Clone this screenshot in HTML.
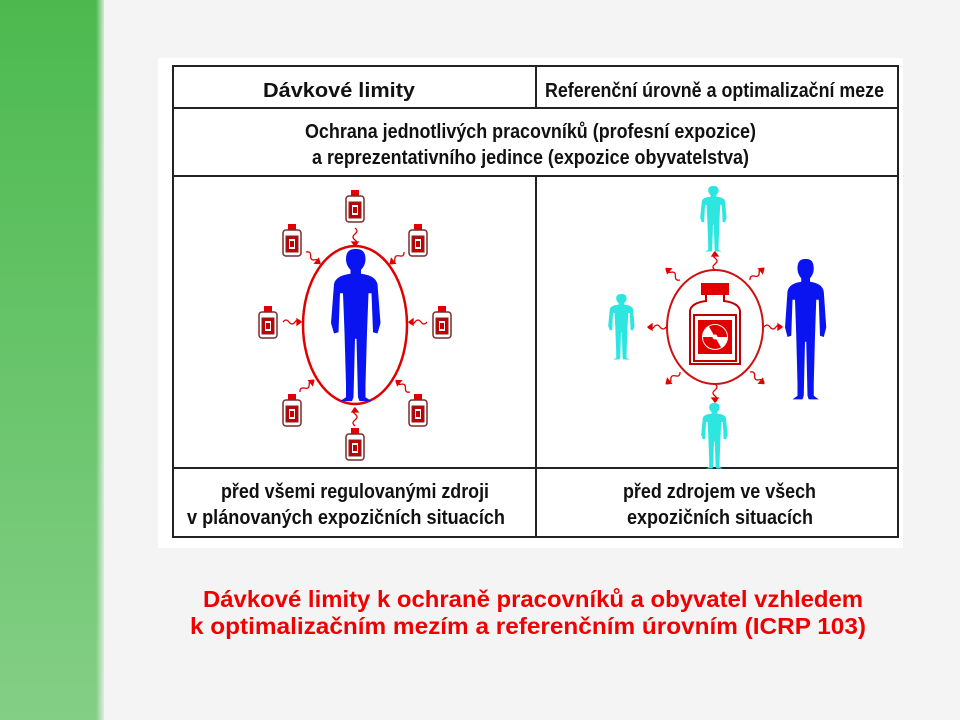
<!DOCTYPE html>
<html><head><meta charset="utf-8"><style>
html,body{margin:0;padding:0;width:960px;height:720px;overflow:hidden;background:#f4f4f4}
</style></head><body>
<svg width="960" height="720" viewBox="0 0 960 720" xmlns="http://www.w3.org/2000/svg" font-family="Liberation Sans, Arial, sans-serif" font-weight="bold">
<defs>
<linearGradient id="g" x1="0" y1="0" x2="0" y2="1">
<stop offset="0" stop-color="#4cb94f"/><stop offset="1" stop-color="#84cf86"/></linearGradient>
<linearGradient id="edge" x1="0" y1="0" x2="1" y2="0">
<stop offset="0" stop-color="#f4f4f4" stop-opacity="0"/><stop offset="1" stop-color="#f4f4f4" stop-opacity="1"/></linearGradient>
<g id="bottle">
<rect x="-4" y="-16" width="8" height="6" fill="#e00000"/>
<rect x="-9" y="-10" width="18" height="26" rx="3" fill="#fff" stroke="#7a2a2a" stroke-width="1.5"/>
<rect x="-6" y="-4" width="12" height="16" fill="#c00000" stroke="#7a2a2a"/>
<rect x="-3" y="-1" width="6" height="10" fill="#fff"/>
<rect x="-2" y="1" width="4" height="6" fill="#c00000"/>
</g>
<path id="man" d="M0,0 c-5,0 -6,4 -6,8 c0,4 2,7 3,8 l0,3 c-6,1 -10,3 -11,8 l-2,30 l2,8 l3,-1 l1,-30 l2,0 l1,30 l1,40 l0,10 l-4,3 l8,0 l1,-3 l1,-45 l1,0 l1,45 l1,3 l8,0 l-4,-3 l0,-10 l1,-40 l1,-30 l2,0 l1,30 l3,1 l2,-8 l-2,-30 c-1,-5 -5,-7 -11,-8 l0,-3 c1,-1 3,-4 3,-8 c0,-4 -1,-8 -6,-8 z"/>
<g id="wav" fill="none" stroke="#e00000" stroke-width="1.3">
<path d="M0,0 q3,-4 6,0 t6,0 t6,0"/><path d="M18,0 l-4,-3 l0,6 z" fill="#e00000"/>
</g>
</defs>
<rect x="0" y="0" width="104" height="720" fill="url(#g)"/>
<rect x="96" y="0" width="10" height="720" fill="url(#edge)"/>
<rect x="158" y="58" width="745" height="490" fill="#fff"/>
<g stroke="#222" stroke-width="2" fill="none">
<rect x="173" y="66" width="725" height="471"/>
<line x1="173" y1="108" x2="898" y2="108"/>
<line x1="173" y1="176" x2="898" y2="176"/>
<line x1="173" y1="468" x2="898" y2="468"/>
<line x1="536" y1="66" x2="536" y2="108"/>
<line x1="536" y1="176" x2="536" y2="537"/>
</g>
<g font-size="20" fill="#111">
<text x="263" y="97" textLength="152" lengthAdjust="spacingAndGlyphs">Dávkové limity</text>
<text x="545" y="97" textLength="339" lengthAdjust="spacingAndGlyphs">Referenční úrovně a optimalizační meze</text>
<text x="305" y="138" textLength="451" lengthAdjust="spacingAndGlyphs">Ochrana jednotlivých pracovníků (profesní expozice)</text>
<text x="312" y="164" textLength="437" lengthAdjust="spacingAndGlyphs">a reprezentativního jedince (expozice obyvatelstva)</text>
<text x="221" y="498" textLength="268" lengthAdjust="spacingAndGlyphs">před všemi regulovanými zdroji</text>
<text x="187" y="524" textLength="318" lengthAdjust="spacingAndGlyphs">v plánovaných expozičních situacích</text>
<text x="623" y="498" textLength="193" lengthAdjust="spacingAndGlyphs">před zdrojem ve všech</text>
<text x="627" y="524" textLength="186" lengthAdjust="spacingAndGlyphs">expozičních situacích</text>
</g>
<g font-size="23" fill="#f00000">
<text x="203" y="607" textLength="660" lengthAdjust="spacingAndGlyphs">Dávkové limity k ochraně pracovníků a obyvatel vzhledem</text>
<text x="190" y="634" textLength="676" lengthAdjust="spacingAndGlyphs">k optimalizačním mezím a referenčním úrovním (ICRP 103)</text>
</g>
<!-- left -->
<ellipse cx="355" cy="325" rx="52" ry="79" fill="none" stroke="#e00000" stroke-width="2.5"/>
<use href="#man" transform="translate(355,249) scale(1.5,1.3)" fill="#0a14f0"/>
<use href="#bottle" x="355" y="206"/>
<use href="#bottle" x="292" y="240"/>
<use href="#bottle" x="418" y="240"/>
<use href="#bottle" x="268" y="322"/>
<use href="#bottle" x="442" y="322"/>
<use href="#bottle" x="292" y="410"/>
<use href="#bottle" x="418" y="410"/>
<use href="#bottle" x="355" y="444"/>
<use href="#wav" transform="translate(355,228) rotate(90)"/>
<use href="#wav" transform="translate(306,252) rotate(40)"/>
<use href="#wav" transform="translate(404,252) rotate(140)"/>
<use href="#wav" transform="translate(283,322)"/>
<use href="#wav" transform="translate(427,322) rotate(180)"/>
<use href="#wav" transform="translate(300,392) rotate(-40)"/>
<use href="#wav" transform="translate(410,392) rotate(-140)"/>
<use href="#wav" transform="translate(355,426) rotate(-90)"/>
<!-- right -->
<ellipse cx="715" cy="327" rx="48" ry="57" fill="none" stroke="#d01010" stroke-width="2"/>
<rect x="701" y="283" width="28" height="12" fill="#e00000"/>
<path d="M706,295 l0,6 q-15,2 -16,10 l0,53 l50,0 l0,-53 q-1,-8 -16,-10 l0,-6" fill="#fff" stroke="#c00000" stroke-width="2"/>
<rect x="694" y="315" width="42" height="46" fill="#fff" stroke="#c00000" stroke-width="2"/>
<rect x="698" y="320" width="34" height="34" fill="#e00000"/>
<circle cx="715" cy="337" r="13" fill="#fff"/>
<path d="M715,337 L715,325 A12,12 0 0 1 725.4,331 Z M715,337 L725.4,343 A12,12 0 0 1 704.6,343 Z M715,337 L704.6,331 A12,12 0 0 1 715,325 Z" fill="#e00000" transform="rotate(30 715 337)"/>
<circle cx="715" cy="337" r="2.5" fill="#fff"/>
<use href="#man" transform="translate(713,186) scale(0.8,0.56)" fill="#2ee6e0"/>
<use href="#man" transform="translate(621,294) scale(0.8,0.56)" fill="#2ee6e0"/>
<use href="#man" transform="translate(714,403) scale(0.8,0.56)" fill="#2ee6e0"/>
<use href="#man" transform="translate(805,259) scale(1.25,1.2)" fill="#0a14f0"/>
<use href="#wav" transform="translate(715,270) rotate(-90)"/>
<use href="#wav" transform="translate(680,280) rotate(-140)"/>
<use href="#wav" transform="translate(750,280) rotate(-40)"/>
<use href="#wav" transform="translate(666,327) rotate(180)"/>
<use href="#wav" transform="translate(764,327)"/>
<use href="#wav" transform="translate(680,372) rotate(140)"/>
<use href="#wav" transform="translate(750,372) rotate(40)"/>
<use href="#wav" transform="translate(715,384) rotate(90)"/>
</svg>
</body></html>
